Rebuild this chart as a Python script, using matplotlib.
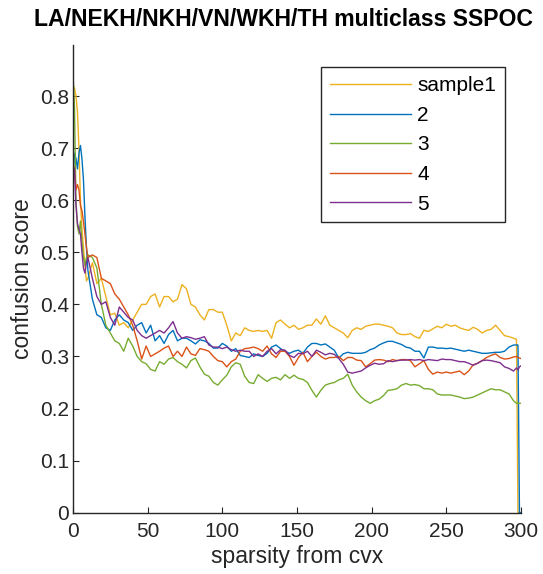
import numpy as np
import matplotlib
matplotlib.use("Agg")
import matplotlib.pyplot as plt

plt.rcParams['font.family'] = ['Liberation Sans', 'DejaVu Sans']

# sparsity levels from the cvx sweep
sparsity = np.r_[0:10, 10:296:3, 297, 298, 299, 300]

sample1 = [0.82, 0.815, 0.80, 0.77, 0.70, 0.60, 0.545, 0.51, 0.475, 0.445,
           0.45, 0.48, 0.44, 0.45, 0.415, 0.38, 0.383, 0.36, 0.365, 0.355,
           0.37, 0.385, 0.40, 0.40, 0.415, 0.42, 0.395, 0.415, 0.415, 0.405,
           0.41, 0.438, 0.43, 0.40, 0.395, 0.38, 0.37, 0.39, 0.39, 0.385,
           0.385, 0.36, 0.33, 0.345, 0.34, 0.355, 0.35, 0.348, 0.35, 0.348,
           0.35, 0.335, 0.365, 0.37, 0.362, 0.355, 0.36, 0.352, 0.355, 0.36,
           0.36, 0.372, 0.362, 0.378, 0.36, 0.355, 0.35, 0.345, 0.336, 0.35,
           0.355, 0.352, 0.358, 0.36, 0.362, 0.362, 0.36, 0.358, 0.355, 0.345,
           0.342, 0.342, 0.344, 0.338, 0.335, 0.35, 0.348, 0.353, 0.358, 0.355,
           0.362, 0.358, 0.36, 0.355, 0.352, 0.35, 0.356, 0.352, 0.345, 0.35,
           0.352, 0.36, 0.35, 0.34, 0.338, 0.335,
           0.333, 0, 0, 0]
sample2 = [0.64, 0.69, 0.68, 0.66, 0.69, 0.705, 0.68, 0.64, 0.57, 0.51,
           0.465, 0.41, 0.38, 0.375, 0.355, 0.35, 0.37, 0.38, 0.37, 0.365,
           0.35, 0.36, 0.365, 0.345, 0.36, 0.33, 0.34, 0.325, 0.342, 0.35,
           0.33, 0.335, 0.335, 0.33, 0.324, 0.332, 0.33, 0.325, 0.316, 0.316,
           0.325, 0.32, 0.31, 0.315, 0.302, 0.30, 0.298, 0.305, 0.302, 0.30,
           0.306, 0.318, 0.322, 0.315, 0.31, 0.306, 0.31, 0.312, 0.306, 0.318,
           0.325, 0.325, 0.322, 0.324, 0.318, 0.312, 0.297, 0.305, 0.308, 0.306,
           0.306, 0.306, 0.308, 0.313, 0.316, 0.322, 0.326, 0.329, 0.329, 0.326,
           0.323, 0.318, 0.316, 0.31, 0.31, 0.297, 0.318, 0.318, 0.316, 0.316,
           0.315, 0.316, 0.314, 0.312, 0.31, 0.312, 0.31, 0.308, 0.306, 0.306,
           0.307, 0.308, 0.308, 0.31, 0.318, 0.322,
           0.322, 0.322, 0, 0]
sample3 = [0.845, 0.78, 0.60, 0.55, 0.535, 0.56, 0.52, 0.49, 0.475, 0.49,
           0.495, 0.49, 0.47, 0.40, 0.36, 0.345, 0.33, 0.325, 0.31, 0.335,
           0.32, 0.30, 0.29, 0.286, 0.275, 0.272, 0.29, 0.285, 0.295, 0.298,
           0.29, 0.285, 0.278, 0.292, 0.297, 0.28, 0.266, 0.262, 0.25, 0.245,
           0.255, 0.264, 0.28, 0.288, 0.285, 0.262, 0.25, 0.248, 0.265, 0.258,
           0.252, 0.258, 0.26, 0.255, 0.265, 0.258, 0.264, 0.258, 0.256, 0.25,
           0.235, 0.222, 0.235, 0.245, 0.248, 0.25, 0.255, 0.258, 0.266, 0.245,
           0.232, 0.222, 0.215, 0.21, 0.215, 0.218, 0.225, 0.235, 0.236, 0.238,
           0.245, 0.248, 0.245, 0.246, 0.244, 0.238, 0.238, 0.236, 0.228, 0.226,
           0.226, 0.226, 0.224, 0.222, 0.219, 0.22, 0.222, 0.226, 0.23, 0.234,
           0.238, 0.236, 0.236, 0.232, 0.228, 0.215,
           0.21, 0.21, 0.21, 0.21]
sample4 = [0.67, 0.66, 0.62, 0.63, 0.62, 0.59, 0.58, 0.56, 0.535, 0.51,
           0.49, 0.495, 0.49, 0.45, 0.445, 0.44, 0.42, 0.41, 0.395, 0.38,
           0.36, 0.33, 0.295, 0.32, 0.30, 0.305, 0.31, 0.316, 0.32, 0.30,
           0.31, 0.30, 0.318, 0.305, 0.302, 0.315, 0.313, 0.31, 0.30, 0.292,
           0.29, 0.28, 0.29, 0.295, 0.31, 0.315, 0.316, 0.318, 0.315, 0.31,
           0.32, 0.305, 0.298, 0.31, 0.31, 0.30, 0.283, 0.298, 0.308, 0.29,
           0.30, 0.308, 0.30, 0.295, 0.298, 0.298, 0.30, 0.292, 0.298, 0.298,
           0.293, 0.292, 0.28, 0.286, 0.293, 0.294, 0.293, 0.29, 0.294, 0.292,
           0.294, 0.294, 0.292, 0.28, 0.286, 0.292, 0.275, 0.266, 0.27, 0.268,
           0.27, 0.268, 0.27, 0.272, 0.265, 0.272, 0.284, 0.287, 0.292, 0.298,
           0.302, 0.305, 0.298, 0.295, 0.296, 0.299,
           0.30, 0.298, 0.297, 0.296]
sample5 = [0.665, 0.66, 0.59, 0.555, 0.545, 0.535, 0.50, 0.47, 0.46, 0.48,
           0.49, 0.45, 0.415, 0.40, 0.405, 0.375, 0.36, 0.395, 0.385, 0.375,
           0.37, 0.35, 0.34, 0.335, 0.34, 0.345, 0.35, 0.345, 0.355, 0.367,
           0.345, 0.335, 0.338, 0.336, 0.333, 0.335, 0.338, 0.322, 0.318, 0.318,
           0.315, 0.318, 0.313, 0.31, 0.312, 0.31, 0.31, 0.30, 0.305, 0.30,
           0.31, 0.315, 0.305, 0.313, 0.312, 0.302, 0.298, 0.306, 0.305, 0.31,
           0.30, 0.312, 0.308, 0.303, 0.306, 0.304, 0.296, 0.285, 0.27, 0.268,
           0.27, 0.272, 0.278, 0.283, 0.287, 0.285, 0.286, 0.292, 0.29, 0.292,
           0.293, 0.293, 0.294, 0.293, 0.294, 0.292, 0.294, 0.293, 0.292, 0.295,
           0.294, 0.294, 0.292, 0.29, 0.29, 0.287, 0.283, 0.287, 0.292, 0.293,
           0.292, 0.29, 0.288, 0.28, 0.277, 0.272,
           0.278, 0.274, 0.28, 0.282]

labels = ['sample1', '2', '3', '4', '5']
colors = ['#EDB120', '#0072BD', '#77AC30', '#D95319', '#7E2F8E']
AX_COLOR = '#262626'

fig = plt.figure(figsize=(5.43, 5.74), dpi=100)
ax = fig.add_axes([0.1344, 0.1068, 0.825, 0.8148])

for ys, lab, c in zip([sample1, sample2, sample3, sample4, sample5], labels, colors):
    ax.plot(sparsity, ys, color=c, lw=1.0, label=lab)

ax.set_xlim(0, 300)
ax.set_ylim(0, 0.898)
ax.set_xticks(np.arange(0, 301, 50))
ax.set_yticks(np.arange(0, 0.81, 0.1))
ax.set_yticklabels(['0', '0.1', '0.2', '0.3', '0.4', '0.5', '0.6', '0.7', '0.8'])

for side in ['top', 'right']:
    ax.spines[side].set_visible(False)
for side in ['left', 'bottom']:
    ax.spines[side].set_color(AX_COLOR)
    ax.spines[side].set_linewidth(1.0)
ax.tick_params(direction='in', length=4, width=0.8, colors=AX_COLOR,
               labelsize=15)
ax.tick_params(axis='x', pad=6.5)
ax.tick_params(axis='y', pad=3)

ax.set_xlabel('sparsity from cvx', fontsize=16.5, color=AX_COLOR, labelpad=3)
ax.set_ylabel('confusion score', fontsize=16.5, color=AX_COLOR, labelpad=4)
fig.text(283 / 543, 1 - 20 / 574, 'LA/NEKH/NKH/VN/WKH/TH multiclass SSPOC',
         ha='center', va='center', fontsize=16.6, fontweight='bold', color='black')

leg = ax.legend(loc='upper right', bbox_to_anchor=(0.964, 0.952),
                borderaxespad=0, fontsize=15, handlelength=3.9,
                handletextpad=0.3, labelspacing=0.51, borderpad=0.42,
                fancybox=False, framealpha=1)
leg.get_frame().set_edgecolor(AX_COLOR)
leg.get_frame().set_linewidth(1.0)
for t in leg.get_texts():
    t.set_color('black')

fig.savefig('out.png', dpi=100)
